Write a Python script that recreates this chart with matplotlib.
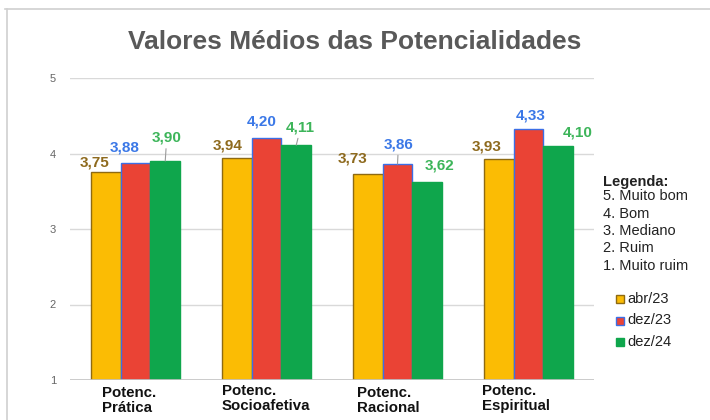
import numpy as np
import matplotlib
matplotlib.use("Agg")
import matplotlib.pyplot as plt
from matplotlib.lines import Line2D
from matplotlib.patches import Rectangle

plt.rcParams['font.family'] = ['Liberation Sans', 'DejaVu Sans']

CATEGORIES = ['Potenc.\nPrática', 'Potenc.\nSocioafetiva', 'Potenc.\nRacional', 'Potenc.\nEspiritual']
SERIES = ['abr/23', 'dez/23', 'dez/24']
ABR23 = [3.75, 3.94, 3.73, 3.93]
DEZ23 = [3.88, 4.20, 3.86, 4.33]
DEZ24 = [3.90, 4.11, 3.62, 4.10]
Y_TICKS = [1, 2, 3, 4, 5]
SCALE_NOTES = ['5. Muito bom', '4. Bom', '3. Mediano', '2. Ruim', '1. Muito ruim']

# styling
FILL = ['#FBBC04', '#EA4335', '#0FA64C']
EDGE = ['#8E6A12', '#3C6FE6', '#0FA64C']
TEXT_COL = ['#8E6A1E', '#3B78E7', '#3DB55A']

# label offsets in pixels from bar top (dx, dy), and whether a leader line is drawn
LABEL_OFFSETS = [
    [(-11.5, 9.5), (-9.5, 13), (-15.5, 15), (-12.5, 12.5)],
    [(-10.5, 15.5), (-4.5, 16.5), (1, 20), (2, 13.5)],
    [(1.5, 23.5), (4.5, 18), (12, 17), (19.5, 13.5)],
]
LEADERS = [
    [False, False, False, False],
    [False, False, True, False],
    [True, True, False, False],
]
XLABEL_DX = [-33.5, -44.5, -40.5, -46.5]
XLABEL_DY = [-6, -4, -6, -4]


def main():
    fig = plt.figure(figsize=(7.1, 4.2), dpi=100)
    W, H = 710, 420
    ax = fig.add_axes([70 / W, 1 - 380 / H, (594 - 70) / W, (380 - 78) / H])

    # outer frame of the chart box
    fig.add_artist(Line2D([5 / W, 1], [1 - 9 / H, 1 - 9 / H], transform=fig.transFigure,
                          color='#D0D0D0', lw=1.2))
    fig.add_artist(Line2D([7 / W, 7 / W], [0, 1 - 9 / H], transform=fig.transFigure,
                          color='#D0D0D0', lw=1.2))

    x = np.arange(len(CATEGORIES))
    width = 0.227
    data = [ABR23, DEZ23, DEZ24]
    for i, vals in enumerate(data):
        pos = x + (i - 1) * width
        bars = ax.bar(pos, np.array(vals) - 1, width, bottom=1, color=FILL[i],
                      edgecolor=EDGE[i], linewidth=1.0, zorder=3, label=SERIES[i])
        for j, b in enumerate(bars):
            dx, dy = LABEL_OFFSETS[i][j]
            top = vals[j]
            cx = b.get_x() + b.get_width() / 2
            props = None
            if LEADERS[i][j]:
                props = dict(arrowstyle='-', color='#9A9A9A', lw=0.8, shrinkA=1, shrinkB=0)
            ax.annotate(f'{vals[j]:.2f}'.replace('.', ','), xy=(cx, top),
                        xytext=(dx, dy), textcoords='offset pixels',
                        ha='center', va='center', fontsize=11, fontweight='bold',
                        color=TEXT_COL[i], arrowprops=props, zorder=5)

    ax.set_xlim(-0.5, 3.5)
    ax.set_ylim(1, 5)
    ax.set_yticks(Y_TICKS)
    ax.set_yticklabels([str(t) for t in Y_TICKS])
    ax.tick_params(axis='y', length=0, pad=10, labelsize=8, labelcolor='#666666')
    ax.set_xticks([])
    ax.grid(axis='y', color='#D9D9D9', lw=1.0, zorder=0)
    for s in ax.spines.values():
        s.set_visible(False)
    ax.axhline(1, color='#C4C4C4', lw=1.2, zorder=4)

    for j, lab in enumerate(CATEGORIES):
        ax.annotate(lab, xy=(x[j], 1), xytext=(XLABEL_DX[j], XLABEL_DY[j]),
                    textcoords='offset pixels', ha='left', va='top',
                    fontsize=10.8, fontweight='bold', color='#111111', linespacing=1.1,
                    annotation_clip=False)

    fig.text(355 / W, 1 - 42 / H, 'Valores Médios das Potencialidades', ha='center', va='center',
             fontsize=19, fontweight='bold', color='#595959')

    # side legend
    fig.text(603 / W, 1 - 182 / H, 'Legenda:', ha='left', va='center', fontsize=10.5,
             fontweight='bold', color='#222222')
    for k, note in enumerate(SCALE_NOTES):
        fig.text(603 / W, 1 - (196 + 17.5 * k) / H, note, ha='left', va='center',
                 fontsize=10.5, color='#222222')
    for i, name in enumerate(SERIES):
        yy = 299 + 21.5 * i
        fig.add_artist(Rectangle(((616) / W, 1 - (yy + 4) / H), 8 / W, 8 / H,
                                 transform=fig.transFigure, facecolor=FILL[i],
                                 edgecolor=EDGE[i], lw=1.0))
        fig.text(627 / W, 1 - yy / H, name, ha='left', va='center', fontsize=10.5,
                 color='#222222')

    fig.savefig('out.png', dpi=100)


if __name__ == "__main__":
    main()
